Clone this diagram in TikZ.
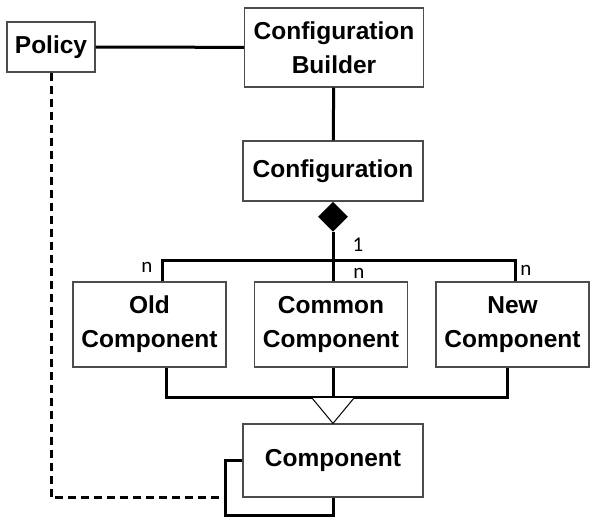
\documentclass[tikz,border=0pt]{standalone}
\usepackage{fontspec}
\setmainfont{Liberation Sans}
\newfontfamily\multfont{Carlito}
\usetikzlibrary{shapes.geometric,calc,positioning}
\tikzset{
  cls/.style={draw=black!70, line width=1.2pt, fill=white, align=center, inner sep=0pt, font=\bfseries\fontsize{24.5}{34}\selectfont},
  conn/.style={line width=3pt, black},
  mult/.style={inner sep=0pt, font=\multfont\fontsize{21}{21}\selectfont},
  owner/.style={diamond, fill=black, inner sep=0pt, minimum width=30pt, minimum height=30pt},
  usage/.style={conn, dash pattern=on 8pt off 5pt}
}

\begin{document}
\begin{tikzpicture}[x=1pt, y=-1pt]
  \useasboundingbox (0,0) rectangle (590,518);

  % classes
  \node [cls, minimum width=88pt, minimum height=50pt] (policy) at (51,47) {Policy};
  \node [cls, minimum width=179pt, minimum height=79pt] (builder) at (334,47.5) {Configuration\\Builder};
  \node [cls, minimum width=180pt, minimum height=60pt] (config) at (333,171) {Configuration};
  \node [owner, anchor=north] (dia) at (config.south) {};

  \node [cls, minimum width=153pt, minimum height=85pt] (oldcomp) at (149.5,324.5) {Old\\Component};
  \node [cls, minimum width=153pt, minimum height=85pt] (commoncomp) at (331,324.5) {Common\\Component};
  \node [cls, minimum width=153pt, minimum height=85pt] (newcomp) at (512.5,324.5) {New\\Component};

  \node [cls, minimum width=180pt, minimum height=73pt] (comp) at (333,460.5) {Component};

  % associations
  \draw [conn] (policy) -- (builder);
  \draw [conn] (builder) -- (config);

  % composition
  \coordinate (bar) at (333,261);
  \draw [conn] (dia.south) -- (bar);
  \draw [conn] ([xshift=12.5pt]oldcomp.north) |- (bar) -| ([xshift=2.5pt]newcomp.north);
  \draw [conn] (bar) -- (bar |- commoncomp.north);
  \node [mult] (m1) at (358,245) {1};
  \node [mult] (mold) at (147,267) {n};
  \node [mult] (mcommon) at (359,273) {n};
  \node [mult] (mnew) at (526,270) {n};

  % generalization
  \coordinate (tritop) at ($(comp.north)+(0,-26)$);
  \draw [conn] ([xshift=16.5pt]oldcomp.south) |- (tritop) -| ([xshift=-5.5pt]newcomp.south);
  \draw [conn] (commoncomp.south -| tritop) -- (tritop);
  \draw [black, line width=1pt, fill=white] (comp.north) -- ($(tritop)+(-21.5,0)$) -- ($(tritop)+(21.5,0)$) -- cycle;

  % self reference and dependency
  \coordinate (loop) at ($(comp.south west)+(-17,0)$);
  \draw [conn] (comp.west) -| (loop) -- ++(0,18) -| (comp.south);
  \draw [usage] (policy.south) |- (loop);
\end{tikzpicture}
\end{document}
